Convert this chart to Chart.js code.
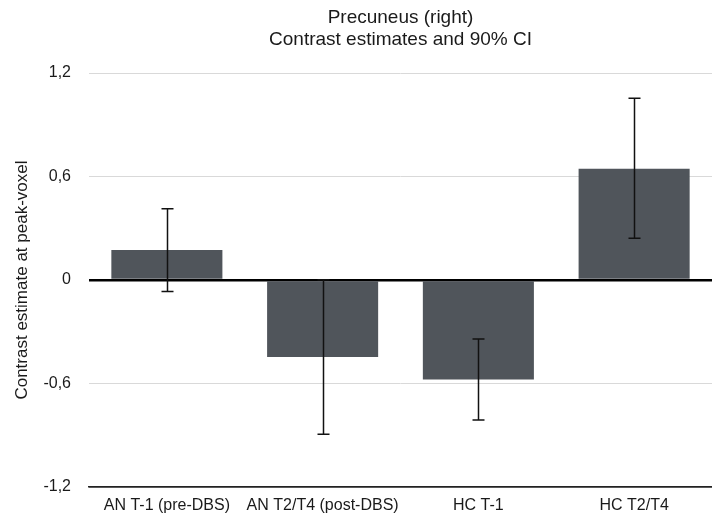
<!DOCTYPE html>
<html lang="en">
<head>
    <meta charset="UTF-8">
    <title>Precuneus (right)</title>
    <script src="https://cdn.jsdelivr.net/npm/chart.js"></script>
    <style>
        html, body { margin: 0; padding: 0; background: #fff; }
        #wrap { width: 712px; height: 518px; }
    </style>
</head>
<body>
    <div id="wrap"><canvas id="precChart"></canvas></div>

    <script>
        // groups and estimates
        const categories = ["AN T-1 (pre-DBS)", "AN T2/T4 (post-DBS)", "HC T-1", "HC T2/T4"];
        const estimates = [0.174, -0.446, -0.576, 0.646];
        // 90% CI bounds
        const ciLower = [-0.066, -0.894, -0.812, 0.242];
        const ciUpper = [0.414, 0.002, -0.342, 1.054];
        // y axis ticks
        const tickValues = [-1.2, -0.6, 0, 0.6, 1.2];
        const tickLabels = ["-1,2", "-0,6", "0", "0,6", "1,2"];

        const fontFam = "'Liberation Sans', Arial, sans-serif";

        // error bars drawn from the y scale
        const errorBars = {
            id: 'errorBars',
            afterDatasetsDraw(chart) {
                const ctx = chart.ctx;
                const y = chart.scales.y;
                const meta = chart.getDatasetMeta(0);
                ctx.save();
                ctx.strokeStyle = '#111';
                ctx.lineWidth = 1.5;
                meta.data.forEach((bar, i) => {
                    const x = Math.round(bar.x) + 0.5;
                    const yLo = y.getPixelForValue(ciLower[i]);
                    const yHi = y.getPixelForValue(ciUpper[i]);
                    ctx.beginPath();
                    ctx.moveTo(x, yLo);
                    ctx.lineTo(x, yHi);
                    ctx.moveTo(x - 6, yLo);
                    ctx.lineTo(x + 6, yLo);
                    ctx.moveTo(x - 6, yHi);
                    ctx.lineTo(x + 6, yHi);
                    ctx.stroke();
                });
                ctx.restore();
            }
        };

        new Chart("precChart", {
            type: "bar",
            data: {
                labels: categories,
                datasets: [{
                    data: estimates,
                    backgroundColor: "#50555b",
                    categoryPercentage: 1,
                    barPercentage: 0.713
                }]
            },
            plugins: [errorBars],
            options: {
                responsive: true,
                maintainAspectRatio: false,
                animation: false,
                layout: { padding: { left: 4, right: 0, top: 0, bottom: 0 } },
                plugins: {
                    legend: { display: false },
                    tooltip: { enabled: false },
                    title: {
                        display: true,
                        fullSize: false,
                        text: ["Precuneus (right)", "Contrast estimates and 90% CI"],
                        color: "#1a1a1a",
                        font: { family: fontFam, size: 19, weight: "normal", lineHeight: 1.16 },
                        padding: { top: 7, bottom: 22 }
                    }
                },
                scales: {
                    x: {
                        grid: { display: false, drawTicks: false },
                        border: { display: true, color: "#222", width: 1.5 },
                        afterFit(scale) {
                            scale.height = 31;
                        },
                        ticks: {
                            color: "#1a1a1a",
                            font: { family: fontFam, size: 16 },
                            maxRotation: 0,
                            padding: 9
                        }
                    },
                    y: {
                        min: -1.2,
                        max: 1.2,
                        afterBuildTicks(scale) {
                            scale.ticks = tickValues.map(v => ({ value: v }));
                        },
                        afterFit(scale) {
                            scale.width = 85;
                        },
                        border: { display: false },
                        grid: {
                            drawTicks: false,
                            color: ctx => ctx.tick.value === 0 ? "#000" : (ctx.tick.value === -1.2 ? "#222" : "#d9d9d9"),
                            lineWidth: ctx => ctx.tick.value === 0 ? 2.5 : (ctx.tick.value === -1.2 ? 1.5 : 1)
                        },
                        ticks: {
                            color: "#1a1a1a",
                            font: { family: fontFam, size: 16 },
                            padding: 18,
                            callback: (val, idx) => tickLabels[idx]
                        },
                        title: {
                            display: true,
                            text: "Contrast estimate at peak-voxel",
                            color: "#1a1a1a",
                            font: { family: fontFam, size: 17 },
                            padding: { top: 8, bottom: 0 }
                        }
                    }
                }
            }
        });
    </script>
</body>
</html>
